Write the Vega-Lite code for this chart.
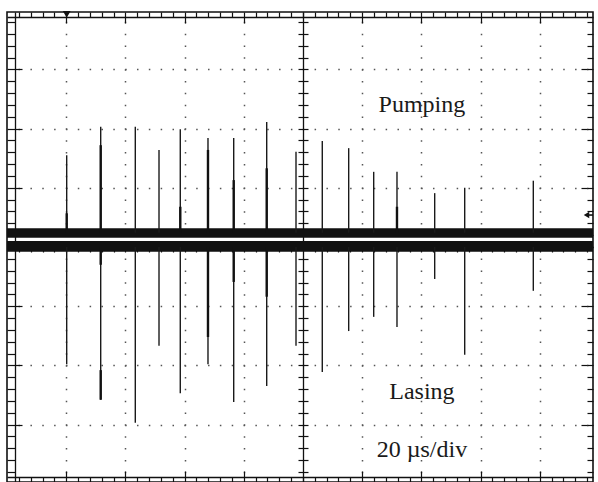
{
  "$schema": "https://vega.github.io/schema/vega-lite/v6.json",
  "width": 586,
  "height": 470,
  "padding": {"left": 7, "top": 12, "right": 5, "bottom": 0},
  "autosize": {"type": "none"},
  "background": "white",
  "config": {
    "view": {"stroke": "#111", "strokeWidth": 1.6},
    "axis": {"labels": false, "title": null, "grid": false, "tickColor": "#111", "tickWidth": 1.2, "domainColor": "#111", "domainWidth": 1.3}
  },
  "datasets": {
    "traces": [
      {"trace": "Pumping", "x0": 0, "x1": 198, "lo": 0.157, "hi": 0.316},
      {"trace": "Lasing", "x0": 0, "x1": 198, "lo": -0.08, "hi": 0.101}
    ],
    "spikes": [
      {"x": 20.17, "trace": "Pumping", "base": 0.24, "tip": 1.55},
      {"x": 31.66, "trace": "Pumping", "base": 0.24, "tip": 2.03},
      {"x": 43.35, "trace": "Pumping", "base": 0.24, "tip": 2.03},
      {"x": 51.36, "trace": "Pumping", "base": 0.24, "tip": 1.64},
      {"x": 58.55, "trace": "Pumping", "base": 0.24, "tip": 1.99},
      {"x": 67.91, "trace": "Pumping", "base": 0.24, "tip": 1.84},
      {"x": 76.6, "trace": "Pumping", "base": 0.24, "tip": 1.84},
      {"x": 87.75, "trace": "Pumping", "base": 0.24, "tip": 2.11},
      {"x": 97.65, "trace": "Pumping", "base": 0.24, "tip": 1.61},
      {"x": 106.53, "trace": "Pumping", "base": 0.24, "tip": 1.79},
      {"x": 115.45, "trace": "Pumping", "base": 0.24, "tip": 1.67},
      {"x": 123.9, "trace": "Pumping", "base": 0.24, "tip": 1.27},
      {"x": 131.77, "trace": "Pumping", "base": 0.24, "tip": 1.27},
      {"x": 144.51, "trace": "Pumping", "base": 0.24, "tip": 0.91},
      {"x": 154.65, "trace": "Pumping", "base": 0.24, "tip": 1.0},
      {"x": 177.83, "trace": "Pumping", "base": 0.24, "tip": 1.12},
      {"x": 20.17, "trace": "Lasing", "base": 0, "tip": -1.98},
      {"x": 31.66, "trace": "Lasing", "base": 0, "tip": -2.58},
      {"x": 43.35, "trace": "Lasing", "base": 0, "tip": -2.97},
      {"x": 51.36, "trace": "Lasing", "base": 0, "tip": -1.67},
      {"x": 58.55, "trace": "Lasing", "base": 0, "tip": -2.47},
      {"x": 67.91, "trace": "Lasing", "base": 0, "tip": -1.98},
      {"x": 76.6, "trace": "Lasing", "base": 0, "tip": -2.62},
      {"x": 87.75, "trace": "Lasing", "base": 0, "tip": -2.35},
      {"x": 97.65, "trace": "Lasing", "base": 0, "tip": -1.67},
      {"x": 106.53, "trace": "Lasing", "base": 0, "tip": -2.11},
      {"x": 115.45, "trace": "Lasing", "base": 0, "tip": -1.42},
      {"x": 123.9, "trace": "Lasing", "base": 0, "tip": -1.18},
      {"x": 131.77, "trace": "Lasing", "base": 0, "tip": -1.35},
      {"x": 144.51, "trace": "Lasing", "base": 0, "tip": -0.54},
      {"x": 154.65, "trace": "Lasing", "base": 0, "tip": -1.82},
      {"x": 177.83, "trace": "Lasing", "base": 0, "tip": -0.74}
    ],
    "thick": [
      {"x": 31.66, "y1": 0.24, "y2": 1.72},
      {"x": 67.91, "y1": 0.24, "y2": 1.64},
      {"x": 76.6, "y1": 0.24, "y2": 1.13},
      {"x": 87.75, "y1": 0.24, "y2": 1.33},
      {"x": 20.17, "y1": 0.24, "y2": 0.57},
      {"x": 58.55, "y1": 0.24, "y2": 0.68},
      {"x": 131.77, "y1": 0.24, "y2": 0.68},
      {"x": 31.66, "y1": -2.08, "y2": -2.58},
      {"x": 31.66, "y1": 0, "y2": -0.3},
      {"x": 67.91, "y1": 0, "y2": -1.52},
      {"x": 76.6, "y1": 0, "y2": -0.59},
      {"x": 87.75, "y1": 0, "y2": -0.84}
    ],
    "labels": [
      {"label": "Pumping", "x": 140.2, "y": 2.285},
      {"label": "Lasing", "x": 140.2, "y": -2.568},
      {"label": "20 µs/div", "x": 140.2, "y": -3.547}
    ],
    "trigpos": [{"x": 20.17, "y": 3.93}],
    "triglevel": [{"x": 195.8, "x2": 198, "y": 0.54}]
  },
  "resolve": {"axis": {"x": "independent", "y": "independent"}},
  "layer": [
    {
      "data": {"name": "traces"},
      "mark": {"type": "rect", "color": "#111"},
      "encoding": {
        "x": {"field": "x0", "type": "quantitative", "scale": {"domain": [0, 198], "nice": false, "zero": false},
          "axis": {"orient": "bottom", "values": [20, 40, 60, 80, 120, 140, 160, 180], "grid": true, "gridColor": "#555", "gridWidth": 1.5, "gridDash": [1.5, 10.34], "gridDashOffset": 2.53, "domain": false, "ticks": false, "labels": false, "title": null}},
        "x2": {"field": "x1"},
        "y": {"field": "lo", "type": "quantitative", "scale": {"domain": [-3.97, 3.97], "nice": false, "zero": false},
          "axis": {"orient": "left", "values": [-3, -2, -1, 1, 2, 3], "grid": true, "gridColor": "#555", "gridWidth": 1.5, "gridDash": [1.5, 10.34], "gridDashOffset": 0.75, "domain": false, "ticks": false, "labels": false, "title": null}},
        "y2": {"field": "hi"}
      }
    },
    {
      "data": {"name": "spikes"},
      "mark": {"type": "rule", "color": "#1a1a1a", "strokeWidth": 1.4},
      "encoding": {
        "x": {"field": "x", "type": "quantitative", "scale": {"domain": [0, 198], "nice": false, "zero": false},
          "axis": {"orient": "bottom", "offset": -5, "values": [4,8,12,16,20,24,28,32,36,40,44,48,52,56,60,64,68,72,76,80,84,88,92,96,100,104,108,112,116,120,124,128,132,136,140,144,148,152,156,160,164,168,172,176,180,184,188,192,196], "tickSize": 5, "domain": true, "labels": false, "title": null}},
        "y": {"field": "base", "type": "quantitative", "scale": {"domain": [-3.97, 3.97], "nice": false, "zero": false},
          "axis": {"orient": "left", "offset": -8, "values": [-3.8,-3.6,-3.4,-3.2,-3,-2.8,-2.6,-2.4,-2.2,-2,-1.8,-1.6,-1.4,-1.2,-1,-0.8,-0.6,-0.4,-0.2,0,0.2,0.4,0.6,0.8,1,1.2,1.4,1.6,1.8,2,2.2,2.4,2.6,2.8,3,3.2,3.4,3.6,3.8], "tickSize": 8, "domain": true, "labels": false, "title": null}},
        "y2": {"field": "tip"}
      }
    },
    {
      "data": {"name": "thick"},
      "mark": {"type": "rule", "color": "#111", "strokeWidth": 2.4},
      "encoding": {
        "x": {"field": "x", "type": "quantitative", "scale": {"domain": [0, 198], "nice": false, "zero": false},
          "axis": {"orient": "top", "offset": -5, "values": [4,8,12,16,20,24,28,32,36,40,44,48,52,56,60,64,68,72,76,80,84,88,92,96,100,104,108,112,116,120,124,128,132,136,140,144,148,152,156,160,164,168,172,176,180,184,188,192,196], "tickSize": 5, "domain": true, "labels": false, "title": null}},
        "y": {"field": "y1", "type": "quantitative", "scale": {"domain": [-3.97, 3.97], "nice": false, "zero": false},
          "axis": {"orient": "right", "offset": -6, "values": [-3.8,-3.6,-3.4,-3.2,-3,-2.8,-2.6,-2.4,-2.2,-2,-1.8,-1.6,-1.4,-1.2,-1,-0.8,-0.6,-0.4,-0.2,0,0.2,0.4,0.6,0.8,1,1.2,1.4,1.6,1.8,2,2.2,2.4,2.6,2.8,3,3.2,3.4,3.6,3.8], "tickSize": 6, "domain": false, "labels": false, "title": null}},
        "y2": {"field": "y2"}
      }
    },
    {
      "data": {"name": "labels"},
      "mark": {"type": "text", "font": "Liberation Serif", "fontSize": 24, "color": "#1a1a1a", "align": "center", "baseline": "alphabetic"},
      "encoding": {
        "x": {"field": "x", "type": "quantitative", "scale": {"domain": [0, 198], "nice": false, "zero": false},
          "axis": {"orient": "top", "offset": -11, "values": [20, 40, 60, 80, 120, 140, 160, 180], "tickSize": 6, "domain": false, "labels": false, "title": null}},
        "y": {"field": "y", "type": "quantitative", "scale": {"domain": [-3.97, 3.97], "nice": false, "zero": false},
          "axis": {"orient": "left", "offset": -15, "values": [-3, -2, -1, 1, 2, 3], "tickSize": 7, "domain": false, "labels": false, "title": null}},
        "text": {"field": "label"}
      }
    },
    {
      "data": {"name": "trigpos"},
      "mark": {"type": "point", "shape": "triangle-down", "filled": true, "color": "#111", "size": 60, "opacity": 1},
      "encoding": {
        "x": {"field": "x", "type": "quantitative", "scale": {"domain": [0, 198], "nice": false, "zero": false},
          "axis": {"orient": "bottom", "offset": -11, "values": [20, 40, 60, 80, 120, 140, 160, 180], "tickSize": 6, "domain": false, "labels": false, "title": null}},
        "y": {"field": "y", "type": "quantitative", "scale": {"domain": [-3.97, 3.97], "nice": false, "zero": false},
          "axis": {"orient": "right", "offset": -12, "values": [-3, -2, -1, 1, 2, 3], "tickSize": 6, "domain": false, "labels": false, "title": null}}
      }
    },
    {
      "data": {"name": "triglevel"},
      "mark": {"type": "point", "shape": "triangle-left", "filled": true, "color": "#111", "size": 40, "opacity": 1},
      "encoding": {
        "x": {"field": "x", "type": "quantitative", "scale": {"domain": [0, 198], "nice": false, "zero": false},
          "axis": {"orient": "top", "offset": -235, "values": [4,8,12,16,20,24,28,32,36,40,44,48,52,56,60,64,68,72,76,80,84,88,92,96,104,108,112,116,120,124,128,132,136,140,144,148,152,156,160,164,168,172,176,180,184,188,192,196], "tickSize": 5, "domain": true, "labels": false, "title": null}},
        "y": {"field": "y", "type": "quantitative", "scale": {"domain": [-3.97, 3.97], "nice": false, "zero": false},
          "axis": {"orient": "left", "offset": -296, "values": [-3.8,-3.6,-3.4,-3.2,-3,-2.8,-2.6,-2.4,-2.2,-2,-1.8,-1.6,-1.4,-1.2,-1,-0.8,-0.6,-0.4,-0.2,0.2,0.4,0.6,0.8,1,1.2,1.4,1.6,1.8,2,2.2,2.4,2.6,2.8,3,3.2,3.4,3.6,3.8], "tickSize": 5, "domain": true, "labels": false, "title": null}}
      }
    },
    {
      "data": {"name": "triglevel"},
      "mark": {"type": "rule", "color": "#111", "strokeWidth": 1.6},
      "encoding": {
        "x": {"field": "x", "type": "quantitative", "scale": {"domain": [0, 198], "nice": false, "zero": false},
          "axis": {"orient": "bottom", "offset": -235, "values": [4,8,12,16,20,24,28,32,36,40,44,48,52,56,60,64,68,72,76,80,84,88,92,96,104,108,112,116,120,124,128,132,136,140,144,148,152,156,160,164,168,172,176,180,184,188,192,196], "tickSize": 5, "domain": false, "labels": false, "title": null}},
        "x2": {"field": "x2"},
        "y": {"field": "y", "type": "quantitative", "scale": {"domain": [-3.97, 3.97], "nice": false, "zero": false},
          "axis": {"orient": "right", "offset": -290, "values": [-3.8,-3.6,-3.4,-3.2,-3,-2.8,-2.6,-2.4,-2.2,-2,-1.8,-1.6,-1.4,-1.2,-1,-0.8,-0.6,-0.4,-0.2,0.2,0.4,0.6,0.8,1,1.2,1.4,1.6,1.8,2,2.2,2.4,2.6,2.8,3,3.2,3.4,3.6,3.8], "tickSize": 5, "domain": false, "labels": false, "title": null}}
      }
    }
  ]
}
